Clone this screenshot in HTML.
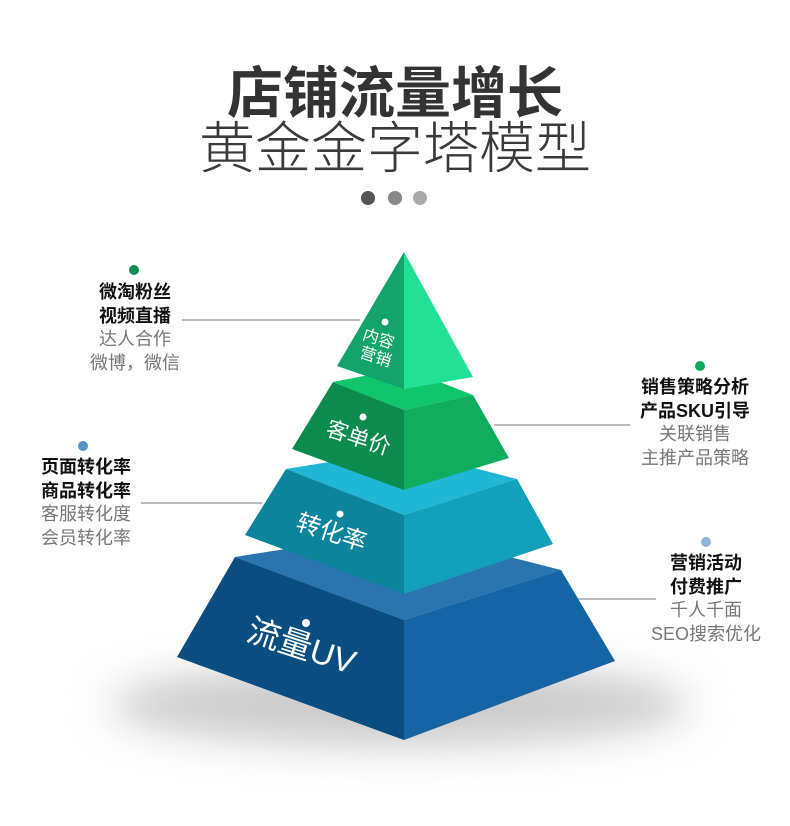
<!DOCTYPE html>
<html><head><meta charset="utf-8"><style>
body{margin:0;width:790px;height:826px;background:#fff;overflow:hidden;position:relative;font-family:"Liberation Sans","Noto Sans CJK SC",sans-serif}
.t{position:absolute;left:0;width:790px;text-align:center;color:#333;font-size:56px;line-height:60px}
.g{position:absolute;text-align:center;font-size:18px;line-height:23.5px;width:200px}
.g b{color:#111;display:block}
.g span{color:#777;display:block}
.dot{position:absolute;border-radius:50%}
</style></head><body>
<div class="t" style="top:64px;font-weight:bold;letter-spacing:0px">店铺流量增长</div>
<div class="t" style="top:119px;font-weight:300;color:#3a3a3a;letter-spacing:0px">黄金金字塔模型</div>
<div class="dot" style="left:361px;top:191px;width:14px;height:14px;background:#555"></div>
<div class="dot" style="left:388px;top:191px;width:14px;height:14px;background:#888"></div>
<div class="dot" style="left:413px;top:191px;width:14px;height:14px;background:#aaa"></div>

<svg width="790" height="826" style="position:absolute;left:0;top:0">
<defs><filter id="b" x="-50%" y="-50%" width="200%" height="200%"><feGaussianBlur stdDeviation="20"/></filter></defs>
<ellipse cx="400" cy="705" rx="290" ry="42" fill="#ccc" filter="url(#b)"/>
<g stroke="#bbb" stroke-width="2">
<line x1="182" y1="320" x2="360" y2="320"/>
<line x1="141" y1="503" x2="262" y2="503"/>
<line x1="494" y1="425" x2="630" y2="425"/>
<line x1="578" y1="599" x2="656" y2="599"/>
</g>
<polygon points="235,557 404,530 561,570 404,620" fill="#2a74b0"/>
<polygon points="235,557 404,620 404,740 177,657" fill="#0a4d80"/>
<polygon points="404,620 561,570 615,661 404,740" fill="#1464a6"/>
<polygon points="286,469 404,450 517,479 404,515" fill="#20b6d6"/>
<polygon points="286,469 404,515 404,594 245,535" fill="#0b849c"/>
<polygon points="404,515 517,479 553,544 404,594" fill="#12a0ba"/>
<polygon points="333,382 404,368 473,395 404,410" fill="#10c66c"/>
<polygon points="333,382 404,410 404,490 292,449" fill="#0b8c4e"/>
<polygon points="404,410 473,395 509,458 404,490" fill="#10ad5e"/>
<polygon points="404,252 337,366 404,389" fill="#12a46a"/>
<polygon points="404,252 404,389 473,377" fill="#22e096"/>
<g fill="#fff">
<circle cx="385" cy="322" r="3.5"/><circle cx="363" cy="417" r="3.5"/><circle cx="340" cy="514" r="3.5"/><circle cx="306" cy="623" r="4"/>
</g>
<g fill="#fff" font-family="Liberation Sans,Noto Sans CJK SC,sans-serif">
<text x="377" y="344" font-size="16" text-anchor="middle" transform="rotate(18 377 344)">内容</text>
<text x="374" y="362" font-size="16" text-anchor="middle" transform="rotate(18 374 362)">营销</text>
<text x="356" y="445" font-size="22" text-anchor="middle" transform="rotate(18 356 445)">客单价</text>
<text x="329" y="540" font-size="24" text-anchor="middle" transform="rotate(18 329 540)">转化率</text>
<text x="298" y="657" font-size="33" text-anchor="middle" transform="rotate(18 298 657)">流量UV</text>
</g>
</svg>

<div class="dot" style="left:129px;top:265px;width:10px;height:10px;background:#0f8f50"></div>
<div class="g" style="left:35px;top:281px"><b>微淘粉丝</b><b>视频直播</b><span>达人合作</span><span>微博，微信</span></div>
<div class="dot" style="left:78px;top:441px;width:10px;height:10px;background:#5592c8"></div>
<div class="g" style="left:-14px;top:456px"><b>页面转化率</b><b>商品转化率</b><span>客服转化度</span><span>会员转化率</span></div>
<div class="dot" style="left:695px;top:361px;width:10px;height:10px;background:#13a860"></div>
<div class="g" style="left:595px;top:376px"><b>销售策略分析</b><b>产品SKU引导</b><span>关联销售</span><span>主推产品策略</span></div>
<div class="dot" style="left:701px;top:537px;width:10px;height:10px;background:#8ab4d8"></div>
<div class="g" style="left:606px;top:552px"><b>营销活动</b><b>付费推广</b><span>千人千面</span><span>SEO搜索优化</span></div>
</body></html>
